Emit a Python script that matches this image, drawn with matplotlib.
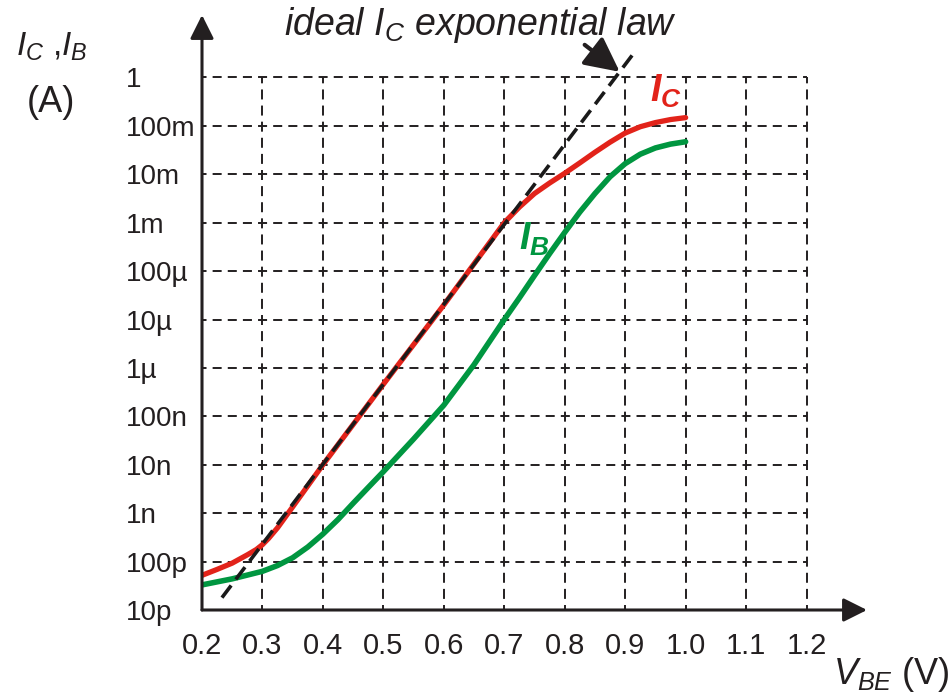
import numpy as np
import matplotlib
matplotlib.use('Agg')
import matplotlib.pyplot as plt

plt.rcParams['font.family'] = ['Liberation Sans', 'DejaVu Sans']
plt.rcParams['mathtext.fontset'] = 'custom'
plt.rcParams['mathtext.rm'] = 'Liberation Sans'
plt.rcParams['mathtext.it'] = 'Liberation Sans:italic'
plt.rcParams['mathtext.bf'] = 'Liberation Sans:italic:bold'
plt.rcParams['lines.scale_dashes'] = False

# V_BE (V) and currents (A)
vbe_ic = [0.20, 0.225, 0.25, 0.275, 0.29, 0.30, 0.31, 0.325, 0.35, 0.40, 0.50, 0.60,
          0.70, 0.725, 0.75, 0.775, 0.80, 0.825, 0.85, 0.875, 0.90, 0.925, 0.95,
          0.975, 1.00]
ic = [5.2e-11, 6.9e-11, 9.3e-11, 1.38e-10, 1.78e-10, 2.24e-10, 3.0e-10, 5.0e-10,
      1.35e-9, 1.0e-8, 4.6e-7, 2.0e-5, 1.0e-3, 2.1e-3, 4.0e-3, 6.6e-3, 1.05e-2,
      1.72e-2, 2.85e-2, 4.6e-2, 7.1e-2, 9.6e-2, 0.117, 0.135, 0.148]

vbe_ib = [0.20, 0.25, 0.30, 0.325, 0.35, 0.375, 0.40, 0.425, 0.45, 0.475, 0.50,
          0.55, 0.60, 0.65, 0.70, 0.725, 0.75, 0.775, 0.80, 0.825, 0.85, 0.875,
          0.90, 0.925, 0.95, 0.975, 1.00]
ib = [3.3e-11, 4.4e-11, 6.3e-11, 8.3e-11, 1.2e-10, 2.0e-10, 3.7e-10, 7.4e-10,
      1.6e-9, 3.4e-9, 7.2e-9, 3.4e-8, 1.7e-7, 1.17e-6, 1.0e-5, 2.8e-5, 8.1e-5,
      2.3e-4, 6.3e-4, 1.66e-3, 4.0e-3, 8.9e-3, 1.66e-2, 2.6e-2, 3.5e-2, 4.2e-2,
      4.7e-2]

# ideal exponential law (straight line on the log axis)
vbe_ideal = [0.233, 0.916]
ic_ideal = [1.8e-11, 3.4]

x_ticks = [0.2, 0.3, 0.4, 0.5, 0.6, 0.7, 0.8, 0.9, 1.0, 1.1, 1.2]
x_labels = ['0.2', '0.3', '0.4', '0.5', '0.6', '0.7', '0.8', '0.9', '1.0', '1.1', '1.2']
y_ticks = [1e-11, 1e-10, 1e-9, 1e-8, 1e-7, 1e-6, 1e-5, 1e-4, 1e-3, 1e-2, 1e-1, 1]
y_labels = ['10p', '100p', '1n', '10n', '100n', '1\u00b5', '10\u00b5', '100\u00b5',
            '1m', '10m', '100m', '1']

dark = '#231f20'
red = '#e2231a'
green = '#009640'

fig = plt.figure(figsize=(9.53, 7), dpi=100)
ax = fig.add_axes([202/953, 1 - 610/700, 665/953, 595/700])
ax.set_yscale('log')
ax.set_xlim(0.2, 1.30)
ax.set_ylim(1e-11, 10**1.29)
for s in ax.spines.values():
    s.set_visible(False)
ax.minorticks_off()

# dashed grid
for yv in y_ticks[1:]:
    ax.plot([x_ticks[0], x_ticks[-1]], [yv, yv], color=dark, lw=1.4,
            linestyle=(3.25, (6.5, 4.4)), zorder=1)
for xv in x_ticks[1:]:
    ax.plot([xv, xv], [y_ticks[0], y_ticks[-1]], color=dark, lw=1.4,
            linestyle=(3.6, (7.2, 4.4)), zorder=1)

# curves
ax.plot(vbe_ib, ib, color=green, lw=4.0, solid_capstyle='round',
        solid_joinstyle='round', zorder=3)
ax.plot(vbe_ic, ic, color=red, lw=3.8, solid_capstyle='round',
        solid_joinstyle='round', zorder=3)
ax.plot(vbe_ideal, ic_ideal, color='#1a1a1a', lw=2.6, linestyle=(0, (11, 5.5)), zorder=4)

# axes with arrows
arr = dict(arrowstyle='-|>,head_length=0.4,head_width=0.2', mutation_scale=36,
           lw=2.2, color=dark, shrinkA=0, shrinkB=0)
ax.annotate('', xy=(1.30, 1e-11), xytext=(0.2, 1e-11), arrowprops=arr,
            annotation_clip=False, zorder=5)
ax.annotate('', xy=(0.2, 10**1.29), xytext=(0.2, 1e-11), arrowprops=arr,
            annotation_clip=False, zorder=5)

ax.set_xticks(x_ticks, labels=x_labels)
ax.set_yticks(y_ticks, labels=y_labels)
ax.tick_params(axis='x', length=0, pad=16, labelsize=21, colors=dark)
ax.tick_params(axis='y', length=0, pad=55, labelsize=20, colors=dark)
for lbl in ax.get_yticklabels():
    lbl.set_horizontalalignment('left')

# annotations
ax.text(0.661, 10**1.087, r'ideal $I_C$ exponential law', fontsize=27,
        fontstyle='italic', color=dark, ha='center', va='center')
ax.annotate('', xy=(0.891, 10**0.116), xytext=(0.833, 10**0.674),
            arrowprops=dict(arrowstyle='-|>,head_length=0.7,head_width=0.35',
                            mutation_scale=30, lw=3, color=dark,
                            shrinkA=0, shrinkB=0))
ax.text(0.9405, 10**-0.504, r'$\mathbf{I_C}$', fontsize=27, color=red,
        ha='left', va='baseline', zorder=6)
ax.text(0.724, 10**-3.56, r'$\mathbf{I_B}$', fontsize=27, color=green,
        ha='left', va='baseline', zorder=6)

fig.text(52/953, 1 - 47/700, r'$I_C$ ,$I_B$', fontsize=24, color=dark,
         ha='center', va='center')
fig.text(51/953, 1 - 102/700, '(A)', fontsize=26, color=dark,
         ha='center', va='center')
fig.text(950/953, 1 - 675/700, r'$V_{BE}$ (V)', fontsize=26, color=dark,
         ha='right', va='center')

fig.savefig('out.png', dpi=100)
